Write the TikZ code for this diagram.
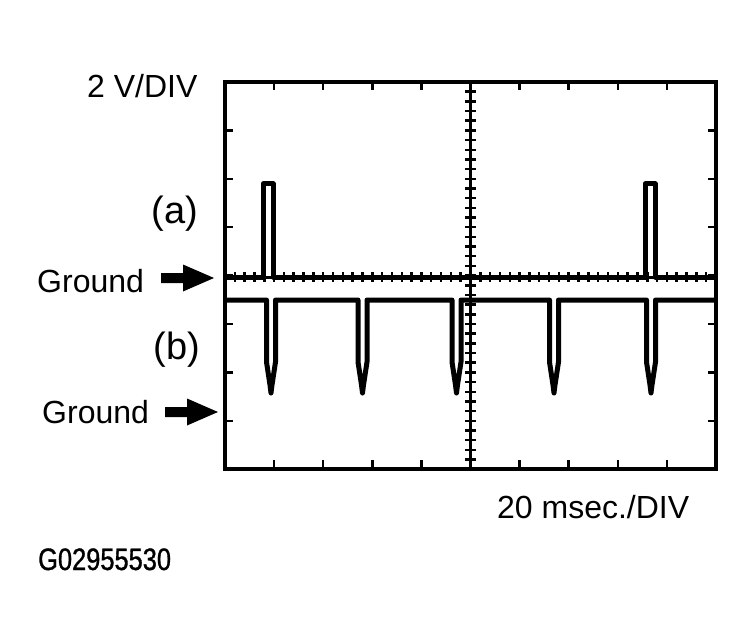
\documentclass[tikz,border=0pt]{standalone}
\usepackage{fontspec}
\setmainfont{Liberation Sans}
\newfontfamily\narrowfont[FakeStretch=0.82,FakeBold=1]{Liberation Sans}
\begin{document}
\begin{tikzpicture}[x=1pt,y=-1pt,
        txt/.style={inner sep=0pt,font=\fontsize{32}{36}\selectfont},
        tag/.style={inner sep=0pt,font=\fontsize{38}{42}\selectfont},
        trace/.style={line width=5pt,line join=round},
        tickmark/.style={line width=2.5pt}]
        \useasboundingbox (0,0) rectangle (755,631);
        % screen frame and division ticks
        \draw[line width=4pt] (225,82) rectangle (716,469);
        \foreach \i in {1,...,9} {
            \draw[tickmark] ({225+49.1*\i},82) -- ++(0,8);
            \draw[tickmark] ({225+49.1*\i},469) -- ++(0,-9);
        }
        \foreach \j in {1,...,7} {
            \draw[tickmark] (225,{82+48.4*\j}) -- ++(8,0);
            \draw[tickmark] (716,{82+48.4*\j}) -- ++(-8,0);
        }
        % centre axes with small ticks
        \draw[line width=3pt] (470.5,82) -- (470.5,469);
        \draw[line width=3pt] (225,277) -- (716,277);
        \foreach \k in {1,...,39}
            \draw[line width=2.5pt] (465,{82+9.68*\k}) -- ++(11,0);
        \foreach \k in {1,...,49}
            \draw[line width=2.5pt] ({225+9.82*\k},272) -- ++(0,10);
        % trace (a)
        \draw[trace] (225,277) -- (263,277) -- (263,184) -- (273,184) -- (273,277)
            -- (645,277) -- (645,184) -- (655,184) -- (655,277) -- (716,277);
        % trace (b)
        \draw[trace] (225,300)
            \foreach \c in {271,362.5,456.5,554,651} {
                -- ({\c-4.5},300) -- ({\c-4.5},362) -- ({\c-1},385) -- (\c,393) -- ({\c+1},385)
                -- ({\c+4.5},362) -- ({\c+4.5},300)
            } -- (716,300);
        % ground arrows
        \foreach \ax/\ay in {161/278,165/412}
            \fill (\ax,\ay-5) -- (\ax+22,\ay-5) -- (\ax+22,\ay-13.5) -- (\ax+53,\ay)
                -- (\ax+22,\ay+13.5) -- (\ax+22,\ay+5) -- (\ax,\ay+5) -- cycle;
        % labels
        \node[txt,anchor=base west] (vdiv) at (87,98) {2 V/DIV};
        \node[tag] (lbla) at (175,213.5) {(a)};
        \node[txt,anchor=base west] (gnda) at (37,292) {Ground};
        \node[tag] (lblb) at (177,350) {(b)};
        \node[txt,anchor=base west] (gndb) at (42,423) {Ground};
        \node[txt,anchor=base west] (tdiv) at (497,518) {20 msec./DIV};
        \node[inner sep=0pt,anchor=base west,font=\narrowfont\fontsize{31}{34}\selectfont] (figid) at (38,570) {G02955530};
    \end{tikzpicture}
\end{document}
